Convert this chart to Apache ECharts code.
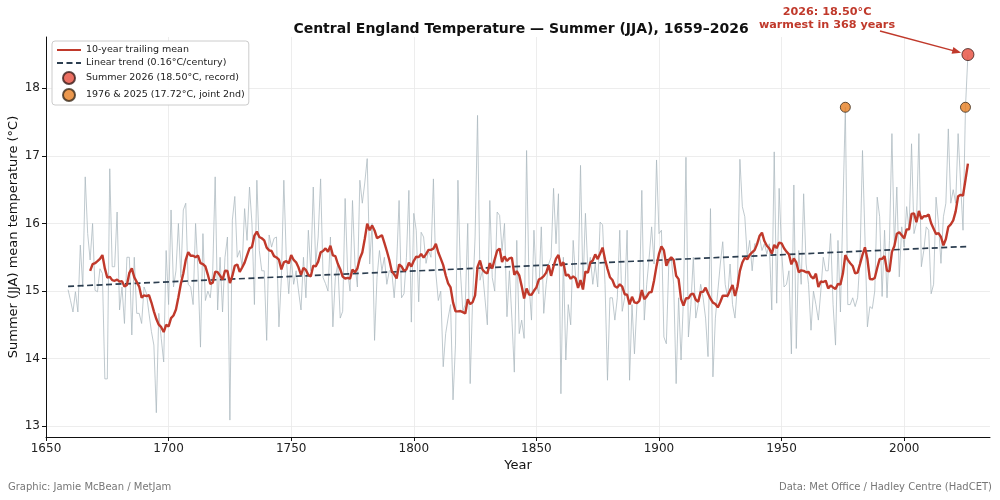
<!DOCTYPE html>
<html><head><meta charset="utf-8">
<script src="https://cdn.jsdelivr.net/npm/echarts@6/dist/echarts.min.js"></script>
<style>html,body{margin:0;padding:0;background:#fff}#c{width:1000px;height:500px}</style>
</head><body><div id="c"></div>
<script>
// ---- DATA ----
const startYear = 1659;
const summerTemps = [
  15.02,
  14.86,14.69,14.99,14.69,15.68,15.06,16.69,15.85,15.46,16.00,
  15.01,14.99,15.33,15.26,13.70,13.70,16.81,15.36,15.36,16.17,
  14.72,15.06,14.52,15.50,15.50,14.35,15.50,14.67,14.67,14.52,
  15.06,14.96,14.67,14.40,14.20,13.20,14.67,14.30,13.95,15.60,
  14.80,16.20,15.06,15.30,16.00,15.20,16.20,16.30,15.10,15.06,
  14.80,16.00,15.30,14.17,15.85,14.86,15.00,14.90,15.30,16.69,
  14.72,15.50,14.69,15.50,15.80,13.09,16.05,16.40,15.50,15.60,
  15.36,16.22,15.75,16.54,16.00,14.80,16.64,15.60,15.30,15.30,
  14.27,15.83,15.65,15.78,15.80,14.47,15.20,16.64,15.50,14.96,
  15.50,15.10,15.30,15.00,14.72,15.50,14.90,15.90,15.30,16.54,
  15.40,15.80,16.66,15.20,15.11,15.00,15.80,14.47,15.20,15.40,
  14.60,14.70,16.37,15.30,15.00,16.34,15.40,15.06,16.64,16.30,
  16.60,16.96,15.40,16.00,14.27,15.20,15.60,15.30,15.50,15.10,
  15.30,15.30,14.90,15.40,16.34,14.90,14.96,15.50,16.49,14.54,
  16.15,15.90,14.84,15.87,15.80,15.41,15.60,15.50,16.66,15.26,
  14.86,15.00,13.88,14.37,14.60,14.80,13.39,14.20,16.64,15.30,
  14.70,14.80,16.00,13.63,14.90,15.80,17.60,15.16,15.30,14.90,
  14.50,16.34,15.20,15.00,16.17,16.12,15.60,16.00,14.62,15.30,
  14.60,13.80,15.75,14.37,14.57,14.30,17.08,15.10,14.57,15.90,
  15.10,14.96,15.95,14.67,15.10,15.40,15.50,16.52,15.70,16.44,
  13.48,15.50,13.98,14.80,14.50,15.75,15.20,15.10,16.86,15.06,
  16.15,15.30,15.50,15.10,15.40,15.06,16.02,15.98,15.10,13.68,
  14.90,14.90,14.57,14.90,15.90,14.70,14.90,15.90,13.68,14.80,
  14.07,14.80,14.90,16.49,14.57,15.10,15.50,15.95,15.40,16.94,
  15.85,15.90,14.32,14.22,15.40,15.50,15.10,13.63,14.90,13.98,
  14.90,16.98,14.32,14.80,15.50,14.60,14.80,15.10,14.90,14.60,
  14.03,16.22,13.73,14.60,15.00,15.40,15.73,15.10,14.90,15.40,
  14.80,14.60,15.10,16.95,16.25,16.10,15.50,15.75,15.30,15.70,
  15.70,15.80,15.60,15.70,15.55,15.70,14.72,17.06,14.82,16.52,
  15.60,15.06,15.10,15.30,14.07,16.57,14.15,15.60,15.10,16.44,
  15.40,15.10,14.42,15.00,14.80,14.57,15.00,15.50,15.30,15.30,
  15.85,14.80,14.20,15.75,14.69,16.20,17.72,14.80,14.80,14.90,
  14.77,14.90,15.50,17.08,15.80,14.47,14.77,14.74,15.00,16.39,
  16.10,14.92,15.90,14.90,15.75,17.33,15.65,16.54,15.21,15.95,
  15.65,16.25,15.90,17.18,15.85,16.00,17.33,15.36,15.60,15.95,
  15.90,14.96,15.10,16.39,16.00,15.41,16.10,16.30,17.40,16.30,
  16.50,16.30,17.33,16.60,15.90,17.72,18.50
];
const trendYears = [1659, 2026];
const trendValues = [15.07, 15.66];
const recordYears = [2026];
const jointSecondYears = [1976, 2025];
const xTicks = [1650, 1700, 1750, 1800, 1850, 1900, 1950, 2000];
const yTicks = [13, 14, 15, 16, 17, 18];
const meanWindow = 10;

// ---- derived ----
const annual = summerTemps.map((v, i) => [startYear + i, v]);
const trailing = [];
for (let i = meanWindow - 1; i < summerTemps.length; i++) {
  let s = 0;
  for (let k = i - meanWindow + 1; k <= i; k++) s += summerTemps[k];
  trailing.push([startYear + i, s / meanWindow]);
}
const valOf = y => summerTemps[y - startYear];
const trend = trendYears.map((y, i) => [y, trendValues[i]]);
const recordPts = recordYears.map(y => [y, valOf(y)]);
const secondPts = jointSecondYears.map(y => [y, valOf(y)]);

const FONT = 'DejaVu Sans';
const footer = [
  {type: 'text', left: 8, top: 482, style: {text: 'Graphic: Jamie McBean / MetJam', fontFamily: FONT, fontSize: 10, fill: '#777'}},
  {type: 'text', right: 8, top: 482, style: {text: 'Data: Met Office / Hadley Centre (HadCET)', fontFamily: FONT, fontSize: 10, fill: '#777'}},
  {type: 'text', x: 827, y: 6, style: {text: '2026: 18.50°C\nwarmest in 368 years', fontFamily: FONT, fontSize: 11.2, fontWeight: 'bold', fill: '#c0392b', align: 'center', lineHeight: 13}}
];
const chart = echarts.init(document.getElementById('c'), null, {renderer: 'canvas'});
chart.setOption({
  animation: false,
  backgroundColor: '#ffffff',
  textStyle: {fontFamily: FONT},
  title: {
    text: 'Central England Temperature — Summer (JJA), 1659–2026',
    left: 516, top: 17, textAlign: 'center',
    textStyle: {fontFamily: FONT, fontSize: 14, fontWeight: 'bold', color: '#111'}
  },
  grid: {left: 46, right: 10, top: 37, bottom: 63, containLabel: false, outerBoundsMode: 'none'},
  legend: {
    orient: 'vertical', left: 52, top: 41,
    backgroundColor: 'rgba(255,255,255,0.9)', borderColor: '#cccccc', borderWidth: 1, borderRadius: 3,
    padding: [4, 4, 3, 4], itemGap: 3, itemWidth: 24, itemHeight: 12,
    textStyle: {fontFamily: FONT, fontSize: 9.5, color: '#222'},
    data: [
      {name: '10-year trailing mean', itemStyle: {opacity: 0}},
      {name: 'Linear trend (0.16°C/century)', itemStyle: {opacity: 0}},
      {name: 'Summer 2026 (18.50°C, record)', icon: 'circle'},
      {name: '1976 & 2025 (17.72°C, joint 2nd)', icon: 'circle'}
    ]
  },
  xAxis: {
    type: 'value', min: 1650, max: 2035,
    name: 'Year', nameLocation: 'middle', nameGap: 22, nameMoveOverlap: false,
    nameTextStyle: {fontFamily: FONT, fontSize: 13, color: '#111'},
    axisLine: {show: true, onZero: false, lineStyle: {color: '#111', width: 1}},
    axisTick: {show: true, length: 4, lineStyle: {color: '#111'}, customValues: xTicks},
    axisLabel: {fontFamily: FONT, fontSize: 12, color: '#222', margin: 6, customValues: xTicks, formatter: v => String(v)},
    splitLine: {show: true, lineStyle: {color: '#e9e9e9', width: 0.8}}
  },
  yAxis: {
    type: 'value', min: 12.84, max: 18.76,
    name: 'Summer (JJA) mean temperature (°C)', nameLocation: 'middle', nameGap: 26, nameRotate: 90, nameMoveOverlap: false,
    nameTextStyle: {fontFamily: FONT, fontSize: 13, color: '#111'},
    axisLine: {show: true, onZero: false, lineStyle: {color: '#111', width: 1}},
    axisTick: {show: true, length: 4, lineStyle: {color: '#111'}, customValues: yTicks},
    axisLabel: {fontFamily: FONT, fontSize: 12, color: '#222', margin: 6, customValues: yTicks, formatter: v => String(v)},
    splitLine: {show: true, lineStyle: {color: '#e9e9e9', width: 0.8}}
  },
  series: [
    {
      name: 'Annual', type: 'line', data: annual, symbol: 'none', z: 2,
      lineStyle: {color: '#abb8bf', width: 0.9, opacity: 0.85}, silent: true
    },
    {
      name: '10-year trailing mean', type: 'line', data: trailing, symbol: 'none', z: 4,
      lineStyle: {color: '#c0392b', width: 2.4}, itemStyle: {color: '#c0392b'}
    },
    {
      name: 'Linear trend (0.16°C/century)', type: 'line', data: trend, symbol: 'none', z: 3,
      lineStyle: {color: '#2c3e50', width: 1.7, type: [6, 3.5]}, itemStyle: {color: '#2c3e50'}
    },
    {
      name: 'Summer 2026 (18.50°C, record)', type: 'scatter', data: recordPts, symbolSize: 12, z: 6,
      itemStyle: {color: '#e74c3c', borderColor: '#3a1d1a', borderWidth: 1}
    },
    {
      name: '1976 & 2025 (17.72°C, joint 2nd)', type: 'scatter', data: secondPts, symbolSize: 10, z: 6,
      itemStyle: {color: '#e67e22', borderColor: '#3a2a1a', borderWidth: 1}
    }
  ],
  graphic: footer
});

// arrow from annotation to the record point
const tgt = chart.convertToPixel({gridIndex: 0}, recordPts[0]);
const sx = 880, sy = 31;
const dx = tgt[0] - sx, dy = tgt[1] - sy, L = Math.hypot(dx, dy);
const ux = dx / L, uy = dy / L;
const ex = tgt[0] - ux * 7, ey = tgt[1] - uy * 7;
const hl = 9, hw = 3.5;
chart.setOption({
  graphic: footer.concat([
    {type: 'line', shape: {x1: sx, y1: sy, x2: ex - ux * hl * 0.6, y2: ey - uy * hl * 0.6}, style: {stroke: '#c0392b', lineWidth: 1.4}, z: 10},
    {type: 'polygon', shape: {points: [[ex, ey], [ex - ux * hl - uy * hw, ey - uy * hl + ux * hw], [ex - ux * hl + uy * hw, ey - uy * hl - ux * hw]]}, style: {fill: '#c0392b'}, z: 10}
  ])
}, {replaceMerge: ['graphic']});
</script>
</body></html>
